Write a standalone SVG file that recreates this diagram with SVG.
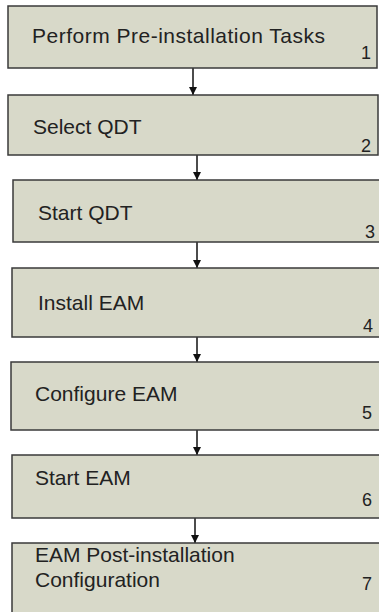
<svg xmlns="http://www.w3.org/2000/svg" width="379" height="612" viewBox="0 0 379 612">
<defs>
<style>
.box{fill:#d8d9c9;stroke:#3a3a3a;stroke-width:1.5}
.lbl{font-family:"Liberation Sans",Arial,sans-serif;font-size:21px;fill:#222}
.num{font-family:"Liberation Sans",Arial,sans-serif;font-size:18px;fill:#222;text-anchor:end}
.conn{stroke:#111;stroke-width:1.5;fill:none;marker-end:url(#ah)}
</style>
<marker id="ah" viewBox="0 0 10 10" refX="10" refY="5" markerWidth="8" markerHeight="9" markerUnits="userSpaceOnUse" orient="auto">
<path d="M0,0 L10,5 L0,10 z" fill="#111"/>
</marker>
</defs>
<rect width="379" height="612" fill="#fff"/>
<g id="connectors">
<line class="conn" x1="193" y1="68" x2="193" y2="95"/>
<line class="conn" x1="197" y1="155" x2="197" y2="180"/>
<line class="conn" x1="197" y1="242" x2="197" y2="268"/>
<line class="conn" x1="197" y1="337" x2="197" y2="362"/>
<line class="conn" x1="197" y1="430" x2="197" y2="455"/>
<line class="conn" x1="195" y1="518" x2="195" y2="543"/>
</g>
<g id="n1">
<rect class="box" x="8" y="6" width="369" height="62"/>
<text class="lbl" x="32" y="43" textLength="293">Perform Pre-installation Tasks</text>
<text class="num" x="371" y="59">1</text>
</g>
<g id="n2">
<rect class="box" x="8" y="95" width="370" height="60"/>
<text class="lbl" x="33" y="134">Select QDT</text>
<text class="num" x="371" y="152">2</text>
</g>
<g id="n3">
<rect class="box" x="13" y="180" width="370" height="62"/>
<text class="lbl" x="38" y="220">Start QDT</text>
<text class="num" x="375" y="238">3</text>
</g>
<g id="n4">
<rect class="box" x="12" y="268" width="370" height="69"/>
<text class="lbl" x="38" y="310">Install EAM</text>
<text class="num" x="373" y="332">4</text>
</g>
<g id="n5">
<rect class="box" x="11" y="362" width="370" height="68"/>
<text class="lbl" x="35" y="401">Configure EAM</text>
<text class="num" x="372" y="419">5</text>
</g>
<g id="n6">
<rect class="box" x="12" y="455" width="370" height="63"/>
<text class="lbl" x="35" y="485">Start EAM</text>
<text class="num" x="372" y="506">6</text>
</g>
<g id="n7">
<rect class="box" x="12" y="543" width="370" height="75"/>
<text class="lbl" x="35" y="562">EAM Post-installation</text>
<text class="lbl" x="35" y="587">Configuration</text>
<text class="num" x="372" y="590">7</text>
</g>
</svg>
